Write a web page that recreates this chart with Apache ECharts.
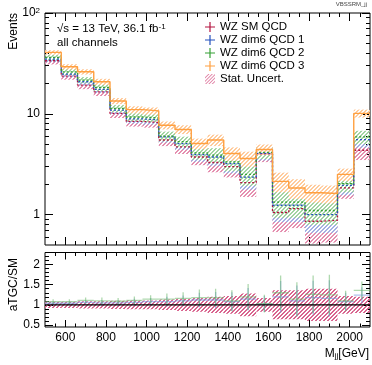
<!DOCTYPE html>
<html>
<head>
<meta charset="utf-8">
<script src="https://cdn.jsdelivr.net/npm/echarts@6/dist/echarts.min.js"></script>
<style>
  html, body { margin: 0; padding: 0; background: #fff; }
  #main { width: 372px; height: 365px; }
</style>
</head>
<body>
<div id="main"></div>
<script>
// M_jj bins [GeV]
var binEdges = [500, 580, 660, 740, 820, 900, 980, 1060, 1140, 1220, 1300, 1380, 1460, 1540, 1620, 1700, 1780, 1860, 1940, 2020, 2100];

// events per bin
var smQCD    = [33.6, 23.7, 19.3, 16.5, 10.1, 8.4, 8.2, 5.5, 4.7, 3.73, 3.29, 3.0, 2.08, 4.0, 1.05, 1.15, 0.86, 0.88, 1.84, 4.35];
var dim6QCD1 = [34.9, 24.8, 20.8, 17.5, 10.9, 8.9, 8.7, 5.9, 5.07, 3.94, 3.73, 3.21, 2.36, 4.05, 1.24, 1.24, 1.0, 1.0, 1.95, 5.56];
var dim6QCD2 = [36.3, 26.1, 21.6, 18.3, 11.3, 9.3, 9.1, 6.0, 5.3, 4.1, 3.9, 3.33, 2.51, 4.15, 1.33, 1.33, 1.1, 1.1, 2.03, 5.9];
var dim6QCD3 = [40.7, 29.3, 26.1, 20.8, 13.4, 11.0, 10.7, 7.7, 7.0, 5.07, 5.5, 4.04, 3.6, 4.43, 2.14, 1.84, 1.65, 1.62, 2.51, 10.1];

// relative stat. uncertainties
var uncSM = [0.08, 0.08, 0.09, 0.09, 0.1, 0.11, 0.11, 0.13, 0.15, 0.17, 0.2, 0.22, 0.28, 0.17, 0.36, 0.36, 0.4, 0.4, 0.22, 0.2];
var uncQ1 = [0.07, 0.07, 0.08, 0.08, 0.09, 0.1, 0.1, 0.12, 0.13, 0.15, 0.18, 0.2, 0.25, 0.15, 0.32, 0.32, 0.34, 0.34, 0.2, 0.17];
var uncQ2 = [0.06, 0.07, 0.07, 0.08, 0.08, 0.09, 0.09, 0.11, 0.12, 0.14, 0.17, 0.19, 0.23, 0.14, 0.3, 0.3, 0.28, 0.28, 0.18, 0.15];
var uncQ3 = [0.05, 0.06, 0.06, 0.07, 0.07, 0.08, 0.08, 0.09, 0.1, 0.12, 0.13, 0.15, 0.17, 0.12, 0.22, 0.22, 0.2, 0.2, 0.14, 0.09];

// aTGC / SM ratio panel
var ratioQ1 = [1.04, 1.04, 1.06, 1.05, 1.05, 1.06, 1.08, 1.08, 1.1, 1.12, 1.12, 1.08, 1.14, 1.02, 1.2, 1.1, 1.18, 1.16, 1.08, 1.24];
var ratioQ2 = [1.08, 1.08, 1.11, 1.1, 1.09, 1.11, 1.14, 1.14, 1.16, 1.18, 1.18, 1.1, 1.2, 1.03, 1.3, 1.14, 1.26, 1.25, 1.1, 1.36];
var errQ1   = [0.05, 0.05, 0.06, 0.07, 0.07, 0.09, 0.09, 0.12, 0.13, 0.18, 0.2, 0.23, 0.28, 0.2, 0.39, 0.38, 0.42, 0.45, 0.22, 0.2];
var errQ2   = [0.06, 0.06, 0.07, 0.08, 0.08, 0.1, 0.1, 0.14, 0.15, 0.2, 0.22, 0.26, 0.32, 0.22, 0.43, 0.42, 0.47, 0.5, 0.25, 0.22];

// ticks
var xMajorTicks = [600, 800, 1000, 1200, 1400, 1600, 1800, 2000];
var xMinorTicks = [550, 650, 700, 750, 850, 900, 950, 1050, 1100, 1150, 1250, 1300, 1350, 1450, 1500, 1550, 1650, 1700, 1750, 1850, 1900, 1950, 2050];
var yMajorTicks = [1, 10, 100];
var yMinorTicks = [0.6, 0.7, 0.8, 0.9, 2, 3, 4, 5, 6, 7, 8, 9, 20, 30, 40, 50, 60, 70, 80, 90];
var rMajorTicks = [0.5, 1, 1.5, 2];
var rMinorTicks = [0.6, 0.7, 0.8, 0.9, 1.1, 1.2, 1.3, 1.4, 1.6, 1.7, 1.8, 1.9, 2.1, 2.2];

var FONT = 'Liberation Sans, Arial, Helvetica, sans-serif';
var C_SM = '#b3123e', C_Q1 = '#2350bd', C_Q2 = '#35a035', C_Q3 = '#ffa040';

// pixel-exact "////" hatch tile, 2px stripes every 4px
function hatch(color) {
  var c = document.createElement('canvas');
  c.width = 4; c.height = 4;
  var ctx = c.getContext('2d');
  ctx.fillStyle = color;
  for (var i = 0; i < 4; i++) {
    ctx.fillRect(i, (3 - i) % 4, 1, 1);
    ctx.fillRect(i, (4 - i) % 4, 1, 1);
  }
  return { image: c, repeat: 'repeat' };
}

var H_SM = hatch('#e590b0');
var H_Q1 = hatch('#a3b0e3');
var H_Q2 = hatch('#a2d4a2');
var H_Q3 = hatch('#ffcb9c');
var H_RATIO = hatch('#d9658f');

function stepData(vals) {
  var d = vals.map(function (v, i) { return [binEdges[i], v]; });
  d.push([binEdges[vals.length], vals[vals.length - 1]]);
  return d;
}

function bandData(vals, unc) {
  return vals.map(function (v, i) { return [binEdges[i], binEdges[i + 1], v * (1 - unc[i]), v * (1 + unc[i])]; });
}

function ratioData(r, e) {
  return r.map(function (v, i) { return [binEdges[i], binEdges[i + 1], v, e[i]]; });
}

function renderBand(fill) {
  return function (params, api) {
    var a = api.coord([api.value(0), api.value(3)]);
    var b = api.coord([api.value(1), api.value(2)]);
    return { type: 'rect', shape: { x: a[0], y: a[1], width: b[0] - a[0], height: b[1] - a[1] }, style: { fill: fill, stroke: null } };
  };
}

function renderRatio(color) {
  return function (params, api) {
    var lo = api.value(0), hi = api.value(1), r = api.value(2), e = api.value(3);
    var mid = (lo + hi) / 2;
    var h1 = api.coord([lo, r]), h2 = api.coord([hi, r]);
    var v1 = api.coord([mid, r + e]), v2 = api.coord([mid, r - e]);
    return {
      type: 'group',
      children: [
        { type: 'line', shape: { x1: h1[0], y1: h1[1], x2: h2[0], y2: h2[1] }, style: { stroke: color, lineWidth: 1.3 } },
        { type: 'line', shape: { x1: v1[0], y1: v1[1], x2: v2[0], y2: v2[1] }, style: { stroke: color, lineWidth: 1.3 } }
      ]
    };
  };
}

function xAx(grid, pos, ticks, len, labels) {
  return {
    type: 'value', gridIndex: grid, position: pos, min: 500, max: 2100,
    axisLine: { show: false, onZero: false },
    splitLine: { show: false },
    axisTick: { show: true, inside: true, length: len, customValues: ticks, lineStyle: { color: '#000', width: 1 } },
    axisLabel: labels ? {
      show: true, customValues: labels, margin: 5, fontSize: 12, color: '#000', fontFamily: FONT,
      formatter: function (v) { return String(v); }
    } : { show: false }
  };
}

function yAx(grid, pos, type, min, max, ticks, len, labels, fmt) {
  var ax = {
    type: type, gridIndex: grid, position: pos, min: min, max: max,
    axisLine: { show: false, onZero: false },
    splitLine: { show: false },
    axisTick: { show: true, inside: true, length: len, customValues: ticks, lineStyle: { color: '#000', width: 1 } },
    axisLabel: labels ? {
      show: true, customValues: labels, margin: 5, fontSize: 12, color: '#000', fontFamily: FONT,
      formatter: fmt, rich: { sup: { fontSize: 8, verticalAlign: 'top', fontFamily: FONT, color: '#000' } }
    } : { show: false }
  };
  if (type === 'log') ax.logBase = 10;
  return ax;
}

function stepLine(name, vals, color, dash, width) {
  return {
    type: 'line', name: name, xAxisIndex: 0, yAxisIndex: 0, step: 'end', data: stepData(vals),
    symbol: 'none', silent: true, z: 5,
    lineStyle: { color: color, width: width, type: dash },
    itemStyle: { color: color }
  };
}

function band(name, vals, unc, fill, legendColor) {
  return {
    type: 'custom', name: name, xAxisIndex: 0, yAxisIndex: 0, clip: true, silent: true, z: 2,
    data: bandData(vals, unc), renderItem: renderBand(fill), itemStyle: { color: legendColor || '#ccc' }
  };
}

var cross = 'path://M0,4.4h10v1.2h-10z M4.4,0h1.2v10h-1.2z';
var hatchIcon = 'path://M0,4L4,0L5.5,0L0,5.5Z M0,8L8,0L9.5,0L0,9.5Z M0,12L12,0L12,1.5L1.5,12Z M4,12L12,4L12,5.5L5.5,12Z M8,12L12,8L12,9.5L9.5,12Z';

var chart = echarts.init(document.getElementById('main'));

var option = {
  animation: false,
  backgroundColor: '#fff',
  grid: [
    { left: 45, top: 13, width: 325, height: 232, show: true, borderColor: '#000', borderWidth: 1, backgroundColor: 'transparent' },
    { left: 45, top: 252.5, width: 325, height: 74.5, show: true, borderColor: '#000', borderWidth: 1, backgroundColor: 'transparent' }
  ],
  xAxis: [
    xAx(0, 'bottom', xMajorTicks, 8),
    xAx(0, 'top', xMajorTicks, 8),
    xAx(0, 'bottom', xMinorTicks, 4),
    xAx(0, 'top', xMinorTicks, 4),
    xAx(1, 'bottom', xMajorTicks, 7, xMajorTicks),
    xAx(1, 'top', xMajorTicks, 7),
    xAx(1, 'bottom', xMinorTicks, 3.5),
    xAx(1, 'top', xMinorTicks, 3.5)
  ],
  yAxis: [
    yAx(0, 'left', 'log', 0.5, 100, yMajorTicks, 8, yMajorTicks, function (v) { return v > 50 ? '10{sup|2}' : String(Math.round(v)); }),
    yAx(0, 'right', 'log', 0.5, 100, yMajorTicks, 8),
    yAx(0, 'left', 'log', 0.5, 100, yMinorTicks, 4),
    yAx(0, 'right', 'log', 0.5, 100, yMinorTicks, 4),
    yAx(1, 'left', 'value', 0.45, 2.3, rMajorTicks, 8, rMajorTicks, function (v) { return String(Math.round(v * 10) / 10); }),
    yAx(1, 'right', 'value', 0.45, 2.3, rMajorTicks, 8),
    yAx(1, 'left', 'value', 0.45, 2.3, rMinorTicks, 4),
    yAx(1, 'right', 'value', 0.45, 2.3, rMinorTicks, 4)
  ],
  legend: {
    orient: 'vertical', left: 205, top: 21, padding: 0, itemGap: 1,
    itemWidth: 10, itemHeight: 10, selectedMode: false,
    textStyle: { fontSize: 11.5, color: '#000', fontFamily: FONT },
    data: [
      { name: 'WZ SM QCD', icon: cross },
      { name: 'WZ dim6 QCD 1', icon: cross },
      { name: 'WZ dim6 QCD 2', icon: cross },
      { name: 'WZ dim6 QCD 3', icon: cross },
      { name: 'Stat. Uncert.', icon: hatchIcon }
    ]
  },
  graphic: [
    { type: 'text', left: 57, top: 23, style: { text: '√s = 13 TeV, 36.1 fb{sup|-1}', fontSize: 11.5, fontFamily: FONT, fill: '#000',
      rich: { sup: { fontSize: 8, verticalAlign: 'top', fontFamily: FONT } } } },
    { type: 'text', left: 57, top: 37, style: { text: 'all channels', fontSize: 11.5, fontFamily: FONT, fill: '#000' } },
    { type: 'text', right: 5, top: 1, style: { text: 'VBSSRM_jj', fontSize: 6, fontFamily: FONT, fill: '#444' } },
    { type: 'text', x: 14, y: 13, rotation: Math.PI / 2, style: { text: 'Events', align: 'right', verticalAlign: 'middle', fontSize: 12, fontFamily: FONT, fill: '#000' } },
    { type: 'text', x: 14, y: 258, rotation: Math.PI / 2, style: { text: 'aTGC/SM', align: 'right', verticalAlign: 'middle', fontSize: 12, fontFamily: FONT, fill: '#000' } },
    { type: 'text', right: 3, top: 348, style: { text: 'M{sub|jj}[GeV]', fontSize: 12, fontFamily: FONT, fill: '#000',
      rich: { sub: { fontSize: 8, verticalAlign: 'bottom', fontFamily: FONT } } } }
  ],
  series: [
    band('Stat. Uncert.', smQCD, uncSM, H_SM, '#e07fa3'),
    band('Q1 unc', dim6QCD1, uncQ1, H_Q1),
    band('Q2 unc', dim6QCD2, uncQ2, H_Q2),
    band('Q3 unc', dim6QCD3, uncQ3, H_Q3),
    stepLine('WZ SM QCD', smQCD, C_SM, [2, 2], 1.3),
    stepLine('WZ dim6 QCD 1', dim6QCD1, C_Q1, [2, 2], 1.3),
    stepLine('WZ dim6 QCD 2', dim6QCD2, C_Q2, [2, 2], 1.3),
    stepLine('WZ dim6 QCD 3', dim6QCD3, C_Q3, 'solid', 1.4),
    {
      type: 'custom', name: 'SM ratio unc', xAxisIndex: 4, yAxisIndex: 4, clip: true, silent: true, z: 2,
      data: bandData(smQCD.map(function () { return 1; }), uncSM), renderItem: renderBand(H_RATIO)
    },
    {
      type: 'custom', name: 'ratio Q1', xAxisIndex: 4, yAxisIndex: 4, clip: true, silent: true, z: 3,
      data: ratioData(ratioQ1, errQ1), renderItem: renderRatio('rgba(120,150,225,0.6)')
    },
    {
      type: 'custom', name: 'ratio Q2', xAxisIndex: 4, yAxisIndex: 4, clip: true, silent: true, z: 4,
      data: ratioData(ratioQ2, errQ2), renderItem: renderRatio('rgba(110,185,110,0.55)')
    },
    {
      type: 'line', name: 'unity', xAxisIndex: 4, yAxisIndex: 4, data: [[500, 1], [2100, 1]],
      symbol: 'none', silent: true, z: 6, lineStyle: { color: '#000', width: 1.2 }
    }
  ]
};

chart.setOption(option);
</script>
</body>
</html>
